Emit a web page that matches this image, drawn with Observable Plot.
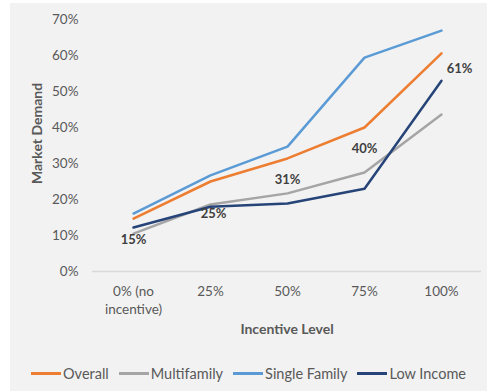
<!DOCTYPE html>
<html>
<head>
<meta charset="utf-8">
<script src="https://cdn.jsdelivr.net/npm/d3@7"></script>
<script src="https://cdn.jsdelivr.net/npm/@observablehq/plot@0.6"></script>
<style>
  html, body { margin: 0; padding: 0; background: #ffffff; }
  #panel { position: absolute; left: 10px; top: 3px; width: 477px; height: 388px; background: #f2f2f2; font-family: Lato, "Open Sans", sans-serif; }
  #legend { display: flex; justify-content: center; align-items: center; margin-top: 17px; font-size: 14.5px; color: #595959; }
  .item { display: flex; align-items: center; margin: 0 5px; }
  .swatch { width: 30px; height: 3px; margin-right: 2px; }
</style>
</head>
<body>
<div id="panel"><div id="chart"></div><div id="legend"></div></div>
<script>
const categories = ["0% (no\nincentive)", "25%", "50%", "75%", "100%"];
const seriesNames = ["Overall", "Multifamily", "Single Family", "Low Income"];
const seriesColors = ["#ed7d31", "#a5a5a5", "#5b9bd5", "#264478"];
const overall      = [0.147, 0.250, 0.314, 0.400, 0.606];
const multifamily  = [0.105, 0.186, 0.217, 0.275, 0.436];
const singleFamily = [0.161, 0.267, 0.347, 0.594, 0.669];
const lowIncome    = [0.122, 0.180, 0.189, 0.230, 0.530];
const yTicks = [0, 0.1, 0.2, 0.3, 0.4, 0.5, 0.6, 0.7];

const seriesValues = [overall, multifamily, singleFamily, lowIncome];
const rows = [];
seriesNames.forEach((s, si) => {
  seriesValues[si].forEach((v, i) => rows.push({series: s, level: categories[i], value: v, idx: i}));
});
const overallRows = rows.filter(d => d.series === "Overall");
const pct = v => Math.round(v * 100) + "%";

const chart = Plot.plot({
  width: 477,
  height: 345,
  marginTop: 16,
  marginBottom: 77,
  marginLeft: 82,
  marginRight: 6,
  style: {background: "transparent", fontFamily: "Lato, 'Open Sans', sans-serif", fontSize: "13.5px", color: "#595959"},
  x: {type: "point", domain: categories, padding: 0.5},
  y: {domain: [0, 0.7]},
  color: {domain: seriesNames, range: seriesColors},
  marks: [
    Plot.axisY({ticks: yTicks, tickFormat: pct, tickSize: 0, tickPadding: 14, label: null}),
    Plot.axisX({tickSize: 0, tickPadding: 12, label: null, lineHeight: 1.33}),
    Plot.ruleY([0], {stroke: "#d9d9d9", strokeWidth: 1.5}),
    Plot.line(rows, {x: "level", y: "value", z: "series", stroke: "series", strokeWidth: 2.5}),
    Plot.text(overallRows.filter(d => d.idx !== 1 && d.idx !== 4), {x: "level", y: "value", text: d => pct(d.value), dy: 21, fontSize: 13, fontWeight: "bold", fill: "#404040"}),
    Plot.text(overallRows.filter(d => d.idx === 1), {x: "level", y: "value", text: d => pct(d.value), dy: 32, dx: 3, fontSize: 13, fontWeight: "bold", fill: "#404040"}),
    Plot.text(overallRows.filter(d => d.idx === 4), {x: "level", y: "value", text: d => pct(d.value), dy: 15, dx: 18, fontSize: 13, fontWeight: "bold", fill: "#404040"}),
    Plot.text(["Market Demand"], {frameAnchor: "left", textAnchor: "middle", lineAnchor: "middle", text: d => d, dx: -55, dy: -12, rotate: -90, fontSize: 14, fontWeight: "bold", fill: "#595959"}),
    Plot.text(["Incentive Level"], {frameAnchor: "bottom", text: d => d, dy: 62, fontSize: 14, fontWeight: "bold", fill: "#595959"})
  ]
});
document.getElementById("chart").appendChild(chart);

const legend = document.getElementById("legend");
seriesNames.forEach((s, i) => {
  const item = document.createElement("div");
  item.className = "item";
  const sw = document.createElement("div");
  sw.className = "swatch";
  sw.style.background = seriesColors[i];
  const t = document.createElement("span");
  t.textContent = s;
  item.appendChild(sw);
  item.appendChild(t);
  legend.appendChild(item);
});
</script>
</body>
</html>
